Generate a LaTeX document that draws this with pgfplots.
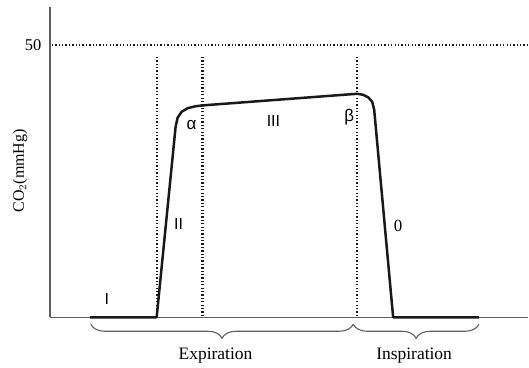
\documentclass[border=0pt]{standalone}
\usepackage{pgfplots}
\pgfplotsset{compat=1.18}
\usepackage{fontspec}
\setmainfont{Liberation Serif}
\newfontfamily\lsans{Liberation Sans}
\usetikzlibrary{decorations.pathreplacing}
\definecolor{axgray}{RGB}{95,95,95}
\definecolor{ink}{RGB}{25,25,25}

\begin{document}
\begin{tikzpicture}
\begin{axis}[
  scale only axis,
  width=479pt, height=311pt,
  xmin=0, xmax=479, ymin=0, ymax=56.96,
  axis x line*=bottom, axis y line*=left,
  axis line style={-, axgray, line width=1.4pt},
  xtick=\empty, ytick={50},
  major tick length=0pt,
  yticklabel style={font=\fontsize{16.5}{18}\selectfont, xshift=-5pt},
  /pgf/number format/assume math mode=true,
  clip=false,
  dots/.style={ink, line width=2.3pt, dash pattern=on 1.3pt off 2.1pt},
]
% dotted guide lines
\addplot[dots] coordinates {(2,50) (479,50)};
\addplot[dots] coordinates {(107,47.8) (107,0)};
\addplot[dots] coordinates {(153,47.8) (153,0)};
\addplot[dots] coordinates {(308,47.8) (308,0)};

% capnogram
\addplot[ink, line width=2.5pt, line join=round] coordinates {
  (40,0) (107,0) (126,34.98) (128,36.63) (132,37.73) (138,38.37)
  (146,38.74) (155,38.92) (308,41.03) (314,40.84) (319,40.38)
  (323,39.56) (325,38.10) (344,0) (430,0)
};

% phase labels
\node[font=\lsans\fontsize{17}{19}\selectfont] at (axis cs:142,35.35) {α};
\node[font=\lsans\fontsize{16}{19}\selectfont] at (axis cs:224,36.08) {III};
\node[font=\lsans\fontsize{17}{19}\selectfont] at (axis cs:300,36.81) {β};
\node[font=\lsans\fontsize{16}{19}\selectfont] at (axis cs:129,17.2) {II};
\node[font=\fontsize{17}{19}\selectfont] at (axis cs:349,16.85) {0};
\node[font=\lsans\fontsize{16}{19}\selectfont] at (axis cs:57,3.3) {I};

% y label
\node[font=\fontsize{16}{18}\selectfont, rotate=90] at (axis cs:-30,26.9) {CO$_2$(mmHg)};

% braces
\draw[axgray, line width=1.1pt, decorate, decoration={brace, mirror, amplitude=14pt}]
  (axis cs:41,-1.28) -- (axis cs:304,-1.28);
\draw[axgray, line width=1.1pt, decorate, decoration={brace, mirror, amplitude=14pt}]
  (axis cs:304,-1.28) -- (axis cs:430,-1.28);
\node[font=\fontsize{17.5}{20}\selectfont] at (axis cs:166,-6.96) {Expiration};
\node[font=\fontsize{17.5}{20}\selectfont] at (axis cs:365,-6.96) {Inspiration};

% page frame
\path (axis cs:-50,-9.16) rectangle (axis cs:479,58.24);
\end{axis}
\end{tikzpicture}
\end{document}
